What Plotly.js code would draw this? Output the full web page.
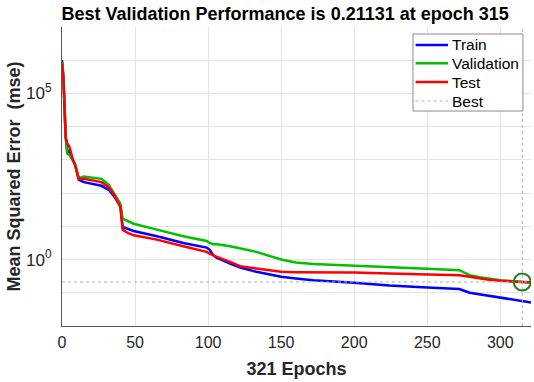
<!DOCTYPE html>
<html>
<head>
<meta charset="utf-8">
<script src="https://cdn.plot.ly/plotly-3.0.1.min.js"></script>
<style>html,body{margin:0;padding:0;background:#fff;}#plot{width:534px;height:382px;}</style>
</head>
<body>
<div id="plot"></div>
<script>
const epochs = [0, 1, 2.5, 3.5, 5, 7.5, 9, 11.5, 15, 27, 32, 36, 38.5, 40, 41.5, 45, 49, 65, 83, 99, 101, 103.5, 106, 115, 122, 133, 150, 160, 172, 200, 224, 250, 272, 279, 286, 291, 300, 309, 315, 321];

const trainMSE = [1e6, 3.16e5, 5012, 1995, 1585, 1000, 708, 251, 214, 166, 126, 75.9, 52.5, 39.8, 9.55, 8.32, 7.24, 5.01, 3.16, 2.29, 2.0, 1.35, 1.12, 0.759, 0.575, 0.427, 0.302, 0.269, 0.240, 0.200, 0.166, 0.145, 0.129, 0.100, 0.0891, 0.0813, 0.0708, 0.0617, 0.0562, 0.0513];

const validationMSE = [8.91e5, 3.16e5, 5012, 1585, 1413, 1000, 708, 282, 316, 269, 178, 95.5, 60.3, 47.9, 17.0, 14.1, 12.0, 7.94, 5.01, 3.63, 3.16, 2.88, 2.88, 2.51, 2.14, 1.70, 1.0, 0.813, 0.741, 0.646, 0.575, 0.525, 0.479, 0.339, 0.295, 0.269, 0.240, 0.224, 0.21131, 0.204];

const testMSE = [7.94e5, 2.51e5, 5012, 3162, 2512, 1000, 708, 263, 269, 214, 151, 85.1, 50.1, 38.0, 7.94, 6.31, 5.37, 3.98, 2.51, 1.70, 1.51, 1.32, 1.20, 0.851, 0.631, 0.537, 0.427, 0.417, 0.417, 0.407, 0.380, 0.355, 0.339, 0.302, 0.269, 0.251, 0.229, 0.214, 0.209, 0.204];

const bestEpoch = 315;
const bestPerf = 0.21131;
const totalEpochs = 321;

const seriesNames = ['Train', 'Validation', 'Test', 'Best'];
const seriesColors = ['#0000ff', '#00c000', '#ff0000', '#a8b8a8'];

const xTickVals = [0, 50, 100, 150, 200, 250, 300];
const yTickVals = [1e0, 1e5];
const yTickText = ['10<sup>0</sup>', '10<sup>5</sup>'];
const yGridVals = [1e-2, 1e-1, 1e0, 1e1, 1e2, 1e3, 1e4, 1e5, 1e6, 1e7];

const lineW = 2.5;
const traces = [
  {x: epochs, y: trainMSE, name: seriesNames[0], mode: 'lines', line: {color: seriesColors[0], width: lineW}},
  {x: epochs, y: validationMSE, name: seriesNames[1], mode: 'lines', line: {color: seriesColors[1], width: lineW}},
  {x: epochs, y: testMSE, name: seriesNames[2], mode: 'lines', line: {color: seriesColors[2], width: lineW}},
  {x: [bestEpoch, bestEpoch, null, 0, totalEpochs], y: [1e-2, 1e7, null, bestPerf, bestPerf], name: seriesNames[3], mode: 'lines', line: {color: seriesColors[3], width: 1, dash: 'dot'}},
  {x: [bestEpoch], y: [bestPerf], mode: 'markers', name: 'Best point', marker: {symbol: 'circle-open', size: 17, color: '#1e7d1e', line: {width: 2, color: '#1e7d1e'}}}
];

// Manual legend (compact line spacing like the reference)
const legBox = {x0: 0.7484, x1: 0.9829, y0: 0.719, y1: 0.9766};
const legRowY = [0.9398, 0.8786, 0.8160, 0.7525];
const legLineX = [0.7540, 0.8230];
const legTextX = 0.8280;

const shapes = [{type: 'rect', xref: 'paper', yref: 'paper', x0: legBox.x0, x1: legBox.x1, y0: legBox.y0, y1: legBox.y1, line: {color: '#8a8a8a', width: 1}, fillcolor: '#ffffff', layer: 'above'}];
const annotations = [];
seriesNames.forEach((n, i) => {
  const isBest = i === 3;
  shapes.push({type: 'line', xref: 'paper', yref: 'paper', x0: legLineX[0], x1: legLineX[1], y0: legRowY[i], y1: legRowY[i], line: {color: seriesColors[i], width: isBest ? 1 : lineW, dash: isBest ? 'dot' : 'solid'}, layer: 'above'});
  annotations.push({xref: 'paper', yref: 'paper', x: legTextX, y: legRowY[i], xanchor: 'left', yanchor: 'middle', text: n, showarrow: false, font: {size: 15.5, color: '#000000'}});
});

const layout = {
  width: 534, height: 382,
  margin: {l: 62, r: 3, t: 27, b: 56},
  paper_bgcolor: '#ffffff', plot_bgcolor: '#ffffff',
  font: {family: 'Liberation Sans, Arial, sans-serif', color: '#262626', size: 16},
  title: {text: '<b>Best Validation Performance is 0.21131 at epoch 315</b>', font: {size: 18, color: '#000000'}, xref: 'container', x: 0.534, xanchor: 'center', yref: 'container', y: 0.963, yanchor: 'middle'},
  xaxis: {
    range: [0, totalEpochs], tickvals: xTickVals, ticks: '', showline: true, linecolor: '#555555', linewidth: 1,
    showgrid: true, gridcolor: '#e4e4e4', gridwidth: 1, zeroline: false,
    tickfont: {size: 16, color: '#262626'}, ticklabelstandoff: 2,
    title: {text: '<b>321 Epochs</b>', font: {size: 18, color: '#262626'}, standoff: 12}
  },
  yaxis: {
    type: 'log', range: [-2, 7], tickvals: yTickVals, ticktext: yTickText, ticks: '',
    showline: true, linecolor: '#555555', linewidth: 1,
    showgrid: true, gridcolor: '#e4e4e4', gridwidth: 1, zeroline: false,
    minor: {tickmode: 'array', tickvals: yGridVals, showgrid: true, gridcolor: '#e4e4e4', gridwidth: 1, ticks: ''},
    tickfont: {size: 17, color: '#262626'}, ticklabelstandoff: 6,
    title: {text: '<b>Mean Squared Error  (mse)</b>', font: {size: 18, color: '#262626'}, standoff: 0}
  },
  showlegend: false,
  shapes: shapes,
  annotations: annotations
};

Plotly.newPlot('plot', traces, layout, {displayModeBar: false, staticPlot: true});
</script>
</body>
</html>
